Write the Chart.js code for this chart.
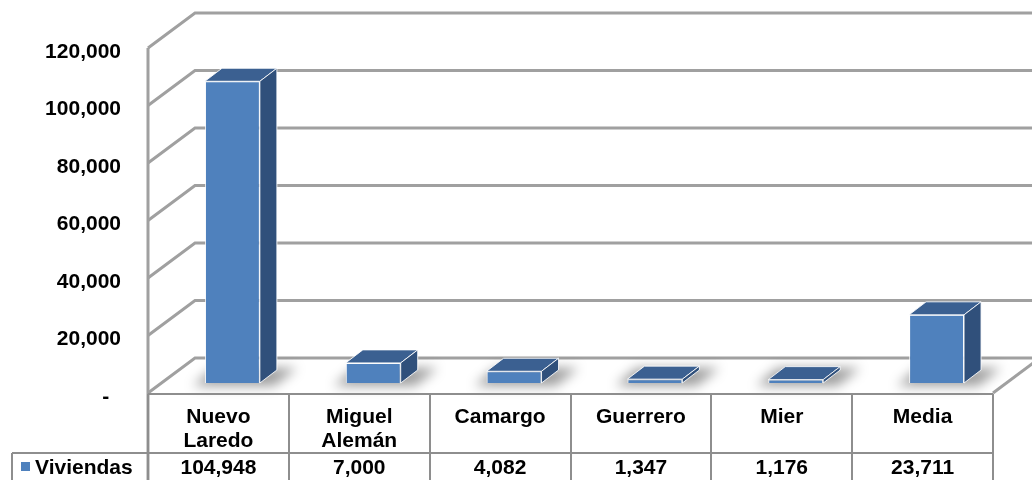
<!DOCTYPE html>
<html lang="es">
<head>
  <meta charset="UTF-8">
  <title>Viviendas</title>
  <script src="https://cdn.jsdelivr.net/npm/chart.js"></script>
  <style>
    html, body { margin: 0; padding: 0; background: #fff; }
    #wrap { width: 1032px; height: 480px; }
  </style>
</head>
<body>
<div id="wrap"><canvas id="chart" width="1032" height="480"></canvas></div>
<script>
const categories = [['Nuevo', 'Laredo'], ['Miguel', 'Alemán'], 'Camargo', 'Guerrero', 'Mier', 'Media'];
const seriesName = 'Viviendas';
const viviendas = [104948, 7000, 4082, 1347, 1176, 23711];
const yTicks = [0, 20000, 40000, 60000, 80000, 100000, 120000];

const FONT = '"Liberation Sans", Arial, sans-serif';
const BLUE = '#4f81bd', TOP = '#3b6091', SIDE = '#30507b';
const GRID = '#a0a0a0', TABLE = '#8e8e8e';
// depth of the floor / back wall, and where the bars sit inside it
const DEPTH = {dx: 47, dy: -35};
const BAR_OFF = {dx: 14, dy: -10};
const BAR_DEPTH = {dx: 17, dy: -13};

const fmt = v => v.toLocaleString('en-US');

const threeD = {
  id: 'threeD',
  beforeDatasetsDraw(chart) {
    const {ctx, chartArea: a, scales: {x, y}} = chart;
    ctx.save();
    ctx.lineCap = 'butt';
    // back wall + side wall lines
    ctx.strokeStyle = GRID; ctx.lineWidth = 3;
    yTicks.forEach(v => {
      const py = y.getPixelForValue(v);
      ctx.beginPath();
      ctx.moveTo(a.left, py);
      ctx.lineTo(a.left + DEPTH.dx, py + DEPTH.dy);
      ctx.lineTo(chart.width, py + DEPTH.dy);
      ctx.stroke();
    });
    ctx.beginPath();
    ctx.moveTo(a.left, y.getPixelForValue(120000));
    ctx.lineTo(a.left, chart.height);
    ctx.stroke();
    // floor right edge
    ctx.beginPath();
    ctx.moveTo(a.right, a.bottom);
    ctx.lineTo(a.right + DEPTH.dx, a.bottom + DEPTH.dy);
    ctx.stroke();

    // soft shadows on the floor
    const meta = chart.getDatasetMeta(0);
    ctx.filter = 'blur(6px)';
    ctx.fillStyle = 'rgba(0,0,0,0.38)';
    meta.data.forEach(b => {
      const l = b.x - b.width / 2 + BAR_OFF.dx, r = b.x + b.width / 2 + BAR_OFF.dx;
      const by = b.base + BAR_OFF.dy;
      ctx.beginPath();
      ctx.moveTo(l - 12, by + 3);
      ctx.lineTo(r + 14, by + 3);
      ctx.lineTo(r + BAR_DEPTH.dx + 20, by + BAR_DEPTH.dy - 2);
      ctx.lineTo(l + BAR_DEPTH.dx - 8, by + BAR_DEPTH.dy - 2);
      ctx.closePath();
      ctx.fill();
    });
    ctx.filter = 'none';
    ctx.restore();

    ctx.save();
    ctx.translate(BAR_OFF.dx, BAR_OFF.dy);
  },
  afterDatasetsDraw(chart) {
    const {ctx} = chart;
    ctx.restore();
    const meta = chart.getDatasetMeta(0);
    ctx.save();
    ctx.strokeStyle = 'rgba(255,255,255,0.85)';
    ctx.lineWidth = 1;
    meta.data.forEach(b => {
      const l = b.x - b.width / 2 + BAR_OFF.dx, r = b.x + b.width / 2 + BAR_OFF.dx;
      const t = b.y + BAR_OFF.dy, bt = b.base + BAR_OFF.dy;
      const {dx, dy} = BAR_DEPTH;
      ctx.fillStyle = TOP;
      ctx.beginPath();
      ctx.moveTo(l, t); ctx.lineTo(r, t); ctx.lineTo(r + dx, t + dy); ctx.lineTo(l + dx, t + dy);
      ctx.closePath(); ctx.fill(); ctx.stroke();
      ctx.fillStyle = SIDE;
      ctx.beginPath();
      ctx.moveTo(r, t); ctx.lineTo(r + dx, t + dy); ctx.lineTo(r + dx, bt + dy); ctx.lineTo(r, bt);
      ctx.closePath(); ctx.fill(); ctx.stroke();
    });
    ctx.restore();
  },
  afterDraw(chart) {
    const {ctx, chartArea: a, scales: {x}} = chart;
    const n = categories.length;
    const step = (a.right - a.left) / n;
    const rowTop = a.bottom + 1, rowMid = 453, rowBot = chart.height;
    ctx.save();
    ctx.strokeStyle = TABLE; ctx.lineWidth = 2;
    ctx.beginPath();
    ctx.moveTo(a.left, rowTop); ctx.lineTo(a.right, rowTop);
    ctx.moveTo(12, rowMid); ctx.lineTo(a.right, rowMid);
    for (let i = 0; i <= n; i++) {
      const xx = i === n ? a.right : Math.round(x.getPixelForValue(i) - step / 2);
      ctx.moveTo(xx, rowTop); ctx.lineTo(xx, rowBot);
    }
    ctx.moveTo(12, rowMid); ctx.lineTo(12, rowBot);
    ctx.stroke();

    // legend key + series name
    ctx.fillStyle = BLUE;
    ctx.fillRect(21, 462, 9, 9);
    ctx.fillStyle = '#000';
    ctx.font = 'bold 21px ' + FONT;
    ctx.textBaseline = 'alphabetic';
    ctx.textAlign = 'left';
    ctx.fillText(seriesName, 35, 474);
    ctx.textAlign = 'center';
    viviendas.forEach((v, i) => ctx.fillText(fmt(v), x.getPixelForValue(i), 474));
    ctx.restore();
  }
};

new Chart(document.getElementById('chart'), {
  type: 'bar',
  data: {
    labels: categories,
    datasets: [{
      label: seriesName,
      data: viviendas,
      backgroundColor: BLUE,
      borderColor: 'rgba(255,255,255,0.85)',
      borderWidth: 1,
      categoryPercentage: 1,
      barPercentage: 0.39
    }]
  },
  options: {
    responsive: false,
    animation: false,
    layout: {padding: {top: 48, right: 39, bottom: 0, left: 0}},
    plugins: {legend: {display: false}, tooltip: {enabled: false}},
    scales: {
      x: {
        grid: {display: false, drawTicks: false},
        border: {display: false},
        ticks: {color: '#000', font: {family: FONT, size: 21, weight: 'bold', lineHeight: 1.15}, padding: 12, maxRotation: 0, autoSkip: false},
        afterFit: s => { s.height = 87; }
      },
      y: {
        min: 0, max: 120000,
        grid: {display: false, drawTicks: false},
        border: {display: false},
        ticks: {
          stepSize: 20000, padding: 27, color: '#000', labelOffset: 4,
          font: {family: FONT, size: 21, weight: 'bold'},
          callback: v => v === 0 ? '-  ' : fmt(v)
        },
        afterFit: s => { s.width = 148; }
      }
    }
  },
  plugins: [threeD]
});
</script>
</body>
</html>
